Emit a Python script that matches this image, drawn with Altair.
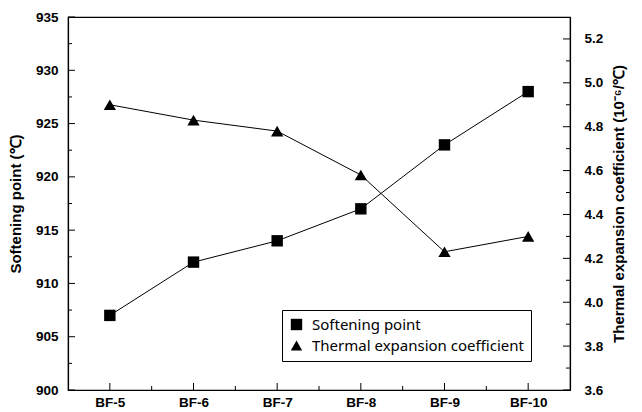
import altair as alt
import pandas as pd

categories = ["BF-5", "BF-6", "BF-7", "BF-8", "BF-9", "BF-10"]
softening = [907, 912, 914, 917, 923, 928]
thermal = [4.90, 4.83, 4.78, 4.58, 4.23, 4.30]
series_names = ["Softening point", "Thermal expansion coefficient"]

left_major = [900, 905, 910, 915, 920, 925, 930, 935]
left_minor = [902.5, 907.5, 912.5, 917.5, 922.5, 927.5, 932.5]
right_major = [3.6, 3.8, 4.0, 4.2, 4.4, 4.6, 4.8, 5.0, 5.2]
right_minor = [3.7, 3.9, 4.1, 4.3, 4.5, 4.7, 4.9, 5.1]
x_minor = [0.5, 1.5, 2.5, 3.5, 4.5]

df = pd.DataFrame({"idx": list(range(len(categories))), "cat": categories,
                   "soft": softening, "cte": thermal})

W, H = 502, 373
FONT = "Liberation Sans"
names = "[" + ",".join("'%s'" % c for c in categories) + "]"

xenc = alt.X("idx:Q", scale=alt.Scale(domain=[-0.5, 5.5], nice=False, zero=False),
             axis=alt.Axis(values=list(range(len(categories))), labelExpr=names + "[datum.value]",
                           title=None, ticks=False, grid=False, labelFont=FONT, labelFontWeight="bold",
                           labelFontSize=13.5, labelColor="black", labelPadding=5,
                           domainColor="black", labelFlush=False))

ysoft_scale = alt.Scale(domain=[900, 935], nice=False, zero=False)
ycte_scale = alt.Scale(domain=[3.6, 5.3], nice=False, zero=False)

shape_scale = alt.Scale(domain=series_names, range=["square", "triangle-up"])
shape_enc = alt.Shape("series:N", scale=shape_scale, legend=alt.Legend(title=None))

soft_line = alt.Chart(df).mark_line(color="black", strokeWidth=1).encode(
    x=xenc,
    y=alt.Y("soft:Q", scale=ysoft_scale,
            axis=alt.Axis(values=left_major, title="Softening point (℃)", ticks=False, grid=False,
                          labelFont=FONT, labelFontWeight="bold", labelFontSize=13.5, labelColor="black",
                          labelPadding=10, titleFont=FONT, titleFontWeight="bold", titleFontSize=15,
                          titleColor="black", titlePadding=12, domainColor="black", orient="left")),
)
soft_pts = alt.Chart(df).transform_calculate(series="'%s'" % series_names[0]).mark_point(
    filled=True, color="black", opacity=1, size=130).encode(
    x=alt.X("idx:Q"), y=alt.Y("soft:Q"), shape=shape_enc,
)

lt = pd.DataFrame({"soft": left_major + left_minor,
                   "len": [7] * len(left_major) + [4] * len(left_minor)})
left_ticks = alt.Chart(lt).mark_rule(color="black", strokeWidth=1).encode(
    y=alt.Y("soft:Q"), x=alt.value(0), x2=alt.value(7)
).transform_filter("datum.len == 7")
left_ticks_minor = alt.Chart(lt).mark_rule(color="black", strokeWidth=1).encode(
    y=alt.Y("soft:Q"), x=alt.value(0), x2=alt.value(4)
).transform_filter("datum.len == 4")

xt = pd.DataFrame({"idx": list(range(len(categories))) + x_minor,
                   "len": [7] * len(categories) + [4] * len(x_minor)})
x_ticks = alt.Chart(xt).mark_rule(color="black", strokeWidth=1).encode(
    x=alt.X("idx:Q"), y=alt.value(H), y2=alt.value(H - 7)
).transform_filter("datum.len == 7")
x_ticks_minor = alt.Chart(xt).mark_rule(color="black", strokeWidth=1).encode(
    x=alt.X("idx:Q"), y=alt.value(H), y2=alt.value(H - 4)
).transform_filter("datum.len == 4")

left = alt.layer(soft_line, soft_pts, left_ticks, left_ticks_minor, x_ticks, x_ticks_minor)

cte_line = alt.Chart(df).mark_line(color="black", strokeWidth=1).encode(
    x=alt.X("idx:Q"),
    y=alt.Y("cte:Q", scale=ycte_scale,
            axis=alt.Axis(values=right_major, format=".1f", title="Thermal expansion coefficient (10⁻⁶/℃)",
                          ticks=False, grid=False, labelFont=FONT, labelFontWeight="bold", labelFontSize=13.5,
                          labelColor="black", labelPadding=14, titleFont=FONT, titleFontWeight="bold",
                          titleFontSize=15, titleColor="black", titlePadding=9, titleAngle=270,
                          titleBaseline="top", domainColor="black", orient="right")),
)
cte_pts = alt.Chart(df).transform_calculate(series="'%s'" % series_names[1]).mark_point(
    filled=True, color="black", opacity=1, size=150).encode(
    x=alt.X("idx:Q"), y=alt.Y("cte:Q"), shape=shape_enc,
)

rt = pd.DataFrame({"cte": right_major + right_minor,
                   "len": [7] * len(right_major) + [4] * len(right_minor)})
right_ticks = alt.Chart(rt).mark_rule(color="black", strokeWidth=1).encode(
    y=alt.Y("cte:Q"), x=alt.value(W), x2=alt.value(W - 7)
).transform_filter("datum.len == 7")
right_ticks_minor = alt.Chart(rt).mark_rule(color="black", strokeWidth=1).encode(
    y=alt.Y("cte:Q"), x=alt.value(W), x2=alt.value(W - 4)
).transform_filter("datum.len == 4")

right = alt.layer(cte_line, cte_pts, right_ticks, right_ticks_minor)

chart = alt.layer(left, right).resolve_scale(y="independent").properties(
    width=W, height=H,
    autosize=alt.AutoSizeParams(type="none"),
    padding={"left": 68, "top": 17, "right": 72, "bottom": 22},
    background="white",
).configure_view(stroke="black", strokeWidth=1.2).configure_axis(
    domainWidth=1.2
).configure_legend(
    orient="none", legendX=214, legendY=293, strokeColor="black", fillColor="white",
    padding=7, labelFont="Noto Sans", labelFontSize=15, labelColor="black",
    symbolFillColor="black", symbolStrokeColor="black", symbolSize=130, rowPadding=5,
    labelLimit=400, labelOffset=8, cornerRadius=0, symbolStrokeWidth=0,
)

chart.save("out.html", embed_options={"renderer": "svg", "actions": False})
